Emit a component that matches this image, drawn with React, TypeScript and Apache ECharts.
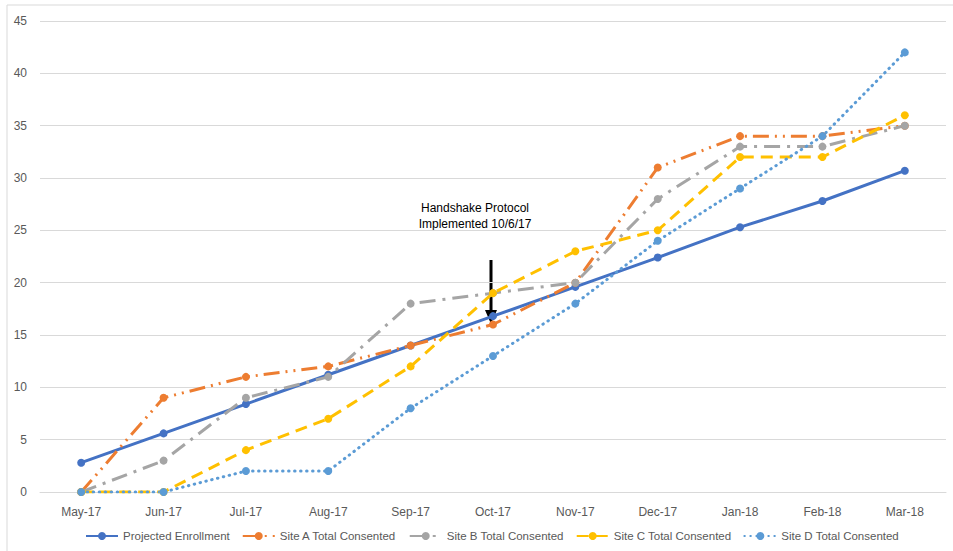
import React, { useEffect, useRef } from "react";
import * as echarts from "echarts";

const categories = ["May-17", "Jun-17", "Jul-17", "Aug-17", "Sep-17", "Oct-17", "Nov-17", "Dec-17", "Jan-18", "Feb-18", "Mar-18"];
const projected = [2.8, 5.6, 8.4, 11.2, 14.0, 16.8, 19.6, 22.4, 25.3, 27.8, 30.7];
const siteA = [0, 9, 11, 12, 14, 16, 20, 31, 34, 34, 35];
const siteB = [0, 3, 9, 11, 18, 19, 20, 28, 33, 33, 35];
const siteC = [0, 0, 4, 7, 12, 19, 23, 25, 32, 32, 36];
const siteD = [0, 0, 2, 2, 8, 13, 18, 24, 29, 34, 42];
const annotation = "Handshake Protocol\nImplemented 10/6/17";

const FONT = "'Liberation Sans Narrow', 'Liberation Sans', sans-serif";

export default function App() {
  const ref = useRef<HTMLDivElement>(null);
  useEffect(() => {
    if (!ref.current) return;
    const chart = echarts.init(ref.current, null, { renderer: "svg" });
    const mk = (name: string, data: number[], color: string, type: any, cap: any = "butt") => ({
      name,
      type: "line",
      data,
      symbol: "circle",
      symbolSize: 8,
      itemStyle: { color },
      lineStyle: { color, width: 3, type, cap },
      emphasis: { disabled: true },
    });
    chart.setOption({
      animation: false,
      textStyle: { fontFamily: FONT },
      grid: { left: 40, right: 7, top: 21, bottom: 59 },
      xAxis: {
        type: "category",
        data: categories,
        boundaryGap: true,
        axisLine: { lineStyle: { color: "#d9d9d9" } },
        axisTick: { show: false },
        axisLabel: { color: "#595959", fontSize: 12, fontFamily: FONT, margin: 14 },
      },
      yAxis: {
        type: "value",
        min: 0,
        max: 45,
        interval: 5,
        axisLine: { show: false },
        axisTick: { show: false },
        axisLabel: { color: "#595959", fontSize: 12, fontFamily: FONT, margin: 13 },
        splitLine: { lineStyle: { color: "#d9d9d9" } },
      },
      legend: {
        bottom: 4,
        left: 80,
        itemGap: 12,
        itemWidth: 32,
        itemHeight: 10,
        textStyle: { color: "#595959", fontSize: 11.5, fontFamily: FONT },
      },
      series: [
        mk("Projected Enrollment", projected, "#4472C4", "solid"),
        mk("Site A Total Consented", siteA, "#ED7D31", [16, 6, 2, 6, 2, 6]),
        mk("Site B Total Consented", siteB, "#A5A5A5", [16, 7, 3, 7]),
        mk("Site C Total Consented", siteC, "#FFC000", [12, 7]),
        mk("Site D Total Consented", siteD, "#5B9BD5", [0.5, 5.5], "round"),
      ],
      graphic: [
        {
          type: "rect",
          shape: { x: 7, y: 5, width: 960, height: 560 },
          style: { fill: "none", stroke: "#d9d9d9", lineWidth: 1 },
          silent: true,
        },
        {
          type: "text",
          x: 475,
          y: 200,
          style: {
            text: annotation,
            fontFamily: FONT,
            fontSize: 12,
            fill: "#000",
            align: "center",
            lineHeight: 16,
          },
        },
        {
          type: "polygon",
          shape: {
            points: [
              [489.5, 260], [492.5, 260], [492.5, 310], [497, 310],
              [491, 324], [485, 310], [489.5, 310],
            ],
          },
          style: { fill: "#000" },
        },
      ],
    });
    return () => chart.dispose();
  }, []);
  return <div ref={ref} style={{ width: 953, height: 551, position: "absolute", left: 0, top: 0 }} />;
}
